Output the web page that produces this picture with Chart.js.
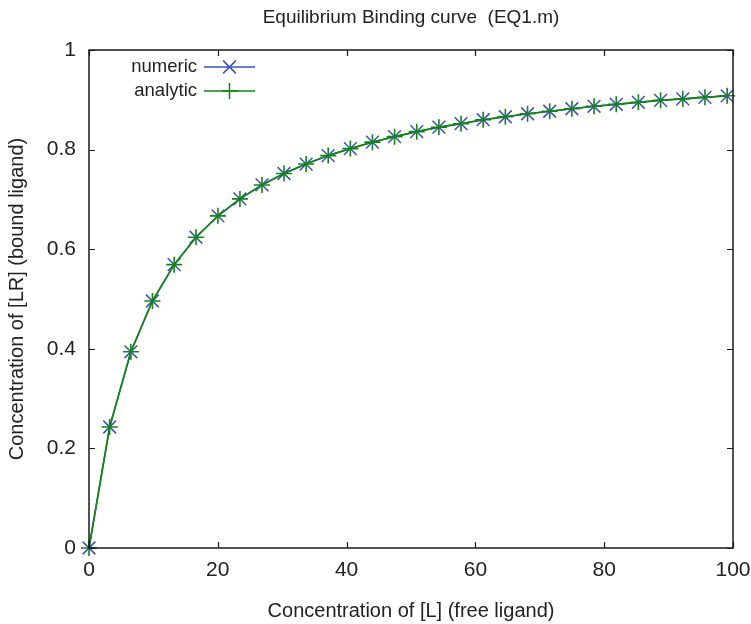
<!DOCTYPE html>
<html>
<head>
<meta charset="utf-8">
<script src="https://cdn.jsdelivr.net/npm/chart.js@4.4.1/dist/chart.umd.min.js"></script>
<style>
  html, body { margin: 0; padding: 0; background: #ffffff; }
  #wrap { width: 751px; height: 624px; position: relative; }
</style>
</head>
<body>
<div id="wrap"><canvas id="c" width="751" height="624"></canvas></div>
<script>
// ---- data ----
const freeLigand = [0, 3.206, 6.503, 9.849, 13.224, 16.617, 20.023, 23.437, 26.858, 30.283,
  33.712, 37.143, 40.577, 44.013, 47.450, 50.888, 54.328, 57.768, 61.209, 64.651,
  68.094, 71.536, 74.980, 78.423, 81.868, 85.312, 88.757, 92.201, 95.646, 99.092];
const numericLR = [0, 0.243, 0.394, 0.496, 0.569, 0.624, 0.667, 0.701, 0.729, 0.752,
  0.771, 0.788, 0.802, 0.815, 0.826, 0.836, 0.845, 0.852, 0.860, 0.866,
  0.872, 0.877, 0.882, 0.887, 0.891, 0.895, 0.899, 0.902, 0.905, 0.908];
const analyticLR = [0, 0.243, 0.394, 0.496, 0.569, 0.624, 0.667, 0.701, 0.729, 0.752,
  0.771, 0.788, 0.802, 0.815, 0.826, 0.836, 0.845, 0.852, 0.860, 0.866,
  0.872, 0.877, 0.882, 0.887, 0.891, 0.895, 0.899, 0.902, 0.905, 0.908];
const xTicks = [0, 20, 40, 60, 80, 100];
const yTicks = [0, 0.2, 0.4, 0.6, 0.8, 1];
const seriesNames = ['numeric', 'analytic'];
const titleText = 'Equilibrium Binding curve  (EQ1.m)';
const xTitle = 'Concentration of [L] (free ligand)';
const yTitle = 'Concentration of [LR] (bound ligand)';

const FONT = '"Liberation Sans", Arial, Helvetica, sans-serif';
const BLUE = '#3d50bd';
const GREEN = '#128512';
const TXT = '#222222';

const toPts = (xs, ys) => xs.map((x, i) => ({ x: x, y: ys[i] }));

// inward ticks on all four sides + frame
const frameTicks = {
  id: 'frameTicks',
  afterDatasetsDraw(chart) {
    const { ctx, chartArea: a, scales } = chart;
    const len = 6;
    ctx.save();
    ctx.strokeStyle = '#1a1a1a';
    ctx.lineWidth = 1.2;
    ctx.beginPath();
    xTicks.forEach(v => {
      const px = Math.round(scales.x.getPixelForValue(v)) + 0.5;
      ctx.moveTo(px, a.bottom); ctx.lineTo(px, a.bottom - len);
      ctx.moveTo(px, a.top); ctx.lineTo(px, a.top + len);
    });
    yTicks.forEach(v => {
      const py = Math.round(scales.y.getPixelForValue(v)) + 0.5;
      ctx.moveTo(a.left, py); ctx.lineTo(a.left + len, py);
      ctx.moveTo(a.right, py); ctx.lineTo(a.right - len, py);
    });
    ctx.stroke();
    ctx.lineWidth = 1.5;
    ctx.strokeRect(a.left, a.top, a.right - a.left, a.bottom - a.top);
    ctx.restore();
  }
};

// legend: text right aligned, then line sample with marker
const insideLegend = {
  id: 'insideLegend',
  afterDraw(chart) {
    const { ctx, chartArea: a } = chart;
    ctx.save();
    ctx.font = '18.5px ' + FONT;
    ctx.textAlign = 'right';
    ctx.textBaseline = 'middle';
    const items = chart.data.datasets.slice().sort((p, q) => p.legendRank - q.legendRank);
    items.forEach((ds, i) => {
      const y = a.top + 17 + i * 24;
      const textRight = a.left + 108;
      const x0 = a.left + 115, x1 = a.left + 166, xm = (x0 + x1) / 2;
      ctx.fillStyle = TXT;
      ctx.fillText(ds.label, textRight, y);
      ctx.strokeStyle = ds.borderColor;
      ctx.lineWidth = 1.5;
      ctx.beginPath(); ctx.moveTo(x0, y); ctx.lineTo(x1, y); ctx.stroke();
      Chart.helpers.drawPoint(ctx, {
        pointStyle: ds.pointStyle, radius: ds.pointRadius, borderWidth: 1.5, rotation: 0
      }, xm, y);
    });
    ctx.restore();
  }
};

new Chart(document.getElementById('c'), {
  type: 'line',
  data: {
    datasets: [
      {
        label: seriesNames[0], legendRank: 0, order: 2,
        data: toPts(freeLigand, numericLR),
        borderColor: BLUE, backgroundColor: BLUE,
        borderWidth: 1.5,
        pointStyle: 'crossRot', pointRadius: 9, pointBorderWidth: 1.5,
        pointBorderColor: BLUE, pointHoverRadius: 9,
        tension: 0, fill: false
      },
      {
        label: seriesNames[1], legendRank: 1, order: 1,
        data: toPts(freeLigand, analyticLR),
        borderColor: GREEN, backgroundColor: GREEN,
        borderWidth: 1.7,
        pointStyle: 'cross', pointRadius: 8, pointBorderWidth: 1.6,
        pointBorderColor: GREEN, pointHoverRadius: 8,
        tension: 0, fill: false
      }
    ]
  },
  options: {
    responsive: false,
    animation: false,
    events: [],
    clip: false,
    layout: { padding: { top: 0, right: 0, left: 0, bottom: 0 } },
    plugins: {
      legend: { display: false },
      tooltip: { enabled: false },
      title: {
        display: true, fullSize: false, text: titleText, color: TXT,
        font: { family: FONT, size: 19, weight: 'normal', lineHeight: 1.2 },
        padding: { top: 6, bottom: 21.2 }
      }
    },
    scales: {
      x: {
        type: 'linear', min: 0, max: 100,
        afterBuildTicks: s => { s.ticks = xTicks.map(v => ({ value: v })); },
        afterFit: s => { s.height = 76; s.paddingLeft = 0; s.paddingRight = 18; },
        grid: { display: false, drawTicks: false },
        border: { display: false },
        ticks: { color: TXT, padding: 10, font: { family: FONT, size: 21 }, maxRotation: 0 },
        title: {
          display: true, text: xTitle, color: TXT,
          font: { family: FONT, size: 20 }, padding: { top: 0, bottom: 1 }
        }
      },
      y: {
        type: 'linear', min: 0, max: 1,
        afterBuildTicks: s => { s.ticks = yTicks.map(v => ({ value: v })); },
        afterFit: s => { s.width = 89; s.paddingTop = 0; s.paddingBottom = 0; },
        grid: { display: false, drawTicks: false },
        border: { display: false },
        ticks: { color: TXT, padding: 13, font: { family: FONT, size: 21 },
                 callback: v => String(v) },
        title: {
          display: true, text: yTitle, color: TXT,
          font: { family: FONT, size: 20 }, padding: { top: 5, bottom: 0 }
        }
      }
    }
  },
  plugins: [frameTicks, insideLegend]
});
</script>
</body>
</html>
